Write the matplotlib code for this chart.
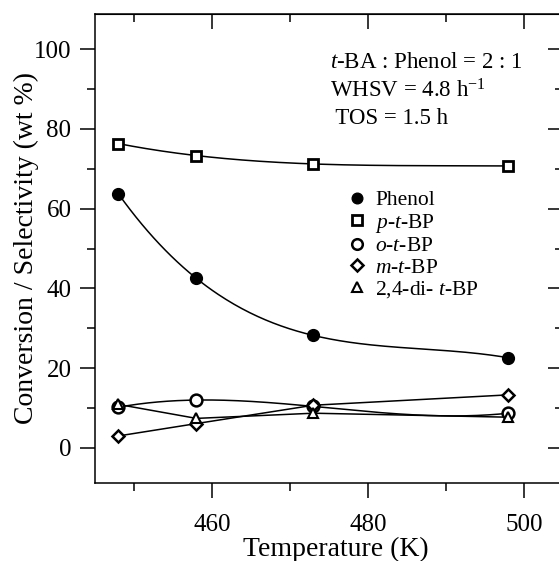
#!/usr/bin/env python
# -*- coding: utf-8 -*-

# == INCLUDE ==
import matplotlib
matplotlib.use("Agg")
import matplotlib.pyplot as plt
from matplotlib.lines import Line2D
from matplotlib.ticker import MultipleLocator
import numpy as np

# == CONST ==
temperature = [448, 458, 473, 498]

phenol = [63.7, 42.5, 28.2, 22.6]
p_t_bp = [76.3, 73.3, 71.2, 70.7]
o_t_bp = [10.2, 12.0, 10.4, 8.7]
m_t_bp = [3.0, 6.1, 10.7, 13.3]
di_t_bp = [10.9, 7.4, 8.7, 7.7]

labels = ["Phenol", r"$\it{p}$-$\it{t}$-BP", r"$\it{o}$-$\it{t}$-BP",
          r"$\it{m}$-$\it{t}$-BP", r"2,4-di- $\it{t}$-BP"]

conditions = [r"$\it{t}$-BA : Phenol = 2 : 1",
              r"WHSV = 4.8 h$^{-1}$",
              r" TOS = 1.5 h"]

# == CONFIG ==
plt.rcParams["font.family"] = ["Liberation Serif", "DejaVu Serif"]
plt.rcParams["mathtext.fontset"] = "custom"
plt.rcParams["mathtext.rm"] = "Liberation Serif"
plt.rcParams["mathtext.it"] = "Liberation Serif:italic"
plt.rcParams["mathtext.bf"] = "Liberation Serif:bold"


# == FUNC ==
def smooth(x, y, n=200):
    """Cubic curve through the measured points (like the fitted line)."""
    coef = np.polyfit(x, y, 3)
    xs = np.linspace(min(x), max(x), n)
    return xs, np.polyval(coef, xs)


# == BEGIN ==
fig = plt.figure(figsize=(5.59, 5.61), dpi=100)
ax = fig.add_axes([95 / 559, 78 / 561, 468 / 559, 469 / 561])

# -- PROC --
styles = [
    dict(marker="o", mfc="black", mec="black", ms=8.5),
    dict(marker="s", mfc="white", mec="black", ms=7.5, mew=2.0),
    dict(marker="o", mfc="white", mec="black", ms=8.5, mew=1.8),
    dict(marker="D", mfc="white", mec="black", ms=6.5, mew=1.8),
    dict(marker="^", mfc="white", mec="black", ms=7.5, mew=1.5),
]
series = [phenol, p_t_bp, o_t_bp, m_t_bp, di_t_bp]
curved = [True, True, True, False, False]

for vals, st, cv in zip(series, styles, curved):
    if cv:
        xs, ys = smooth(temperature, vals)
        ax.plot(xs, ys, color="black", lw=1.1, zorder=2)
    else:
        ax.plot(temperature, vals, color="black", lw=1.1, zorder=2)
    ax.plot(temperature, vals, linestyle="none", zorder=3, **st)

ax.set_xlim(445, 505)
ax.set_ylim(-8.8, 108.8)
ax.xaxis.set_minor_locator(MultipleLocator(10))
ax.yaxis.set_minor_locator(MultipleLocator(10))
ax.set_xticks([460, 480, 500])
ax.set_yticks([0, 20, 40, 60, 80, 100])

ax.tick_params(which="both", direction="out", top=False, right=False,
               labelsize=18, width=1.1)
ax.tick_params(which="major", length=11, pad=6)
ax.tick_params(axis="x", which="major", pad=11)
ax.tick_params(which="minor", length=6)
for sp in ax.spines.values():
    sp.set_linewidth(1.1)

# top / right ticks point inwards
ax_top = ax.secondary_xaxis("top")
ax_top.set_xticks([460, 480, 500])
ax_top.xaxis.set_minor_locator(MultipleLocator(10))
ax_top.tick_params(which="both", direction="in", labeltop=False, width=1.1)
ax_top.tick_params(which="major", length=11)
ax_top.tick_params(which="minor", length=6)
ax_right = ax.secondary_yaxis("right")
ax_right.set_yticks([0, 20, 40, 60, 80, 100])
ax_right.yaxis.set_minor_locator(MultipleLocator(10))
ax_right.tick_params(which="both", direction="in", labelright=False, width=1.1)
ax_right.tick_params(which="major", length=11)
ax_right.tick_params(which="minor", length=6)

ax.set_xlabel("Temperature (K)", fontsize=20, labelpad=-1)
ax.xaxis.set_label_coords(0.515, -0.115)
ax.set_ylabel("Conversion / Selectivity (wt %)", fontsize=20, labelpad=-4)

for i, txt in enumerate(conditions):
    fig.text(330 / 559, 1 - (62 + 28.5 * i) / 561, txt, fontsize=16.5,
             ha="left", va="center")

handles = [Line2D([], [], linestyle="none", **dict(st, ms=st["ms"] * 0.9))
           for st in styles]
ax.legend(handles, labels, loc="upper left", frameon=False, fontsize=15.5,
          bbox_to_anchor=(347 / 559, 1 - 190 / 561),
          bbox_transform=fig.transFigure, borderpad=0, borderaxespad=0,
          handlelength=0.9, handletextpad=0.4, labelspacing=0.07)

# -- OUT --
fig.savefig("out.png", dpi=100)
# EOF .
